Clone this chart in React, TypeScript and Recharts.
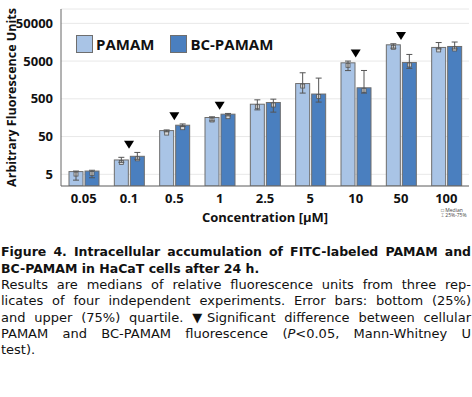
import React from "react";
import {
  ComposedChart,
  Bar,
  ErrorBar,
  Scatter,
  XAxis,
  YAxis,
  CartesianGrid,
  Legend,
} from "recharts";

const categories = ["0.05", "0.1", "0.5", "1", "2.5", "5", "10", "50", "100"];
const pamamMedian = [5.9, 12, 72, 160, 360, 1270, 4500, 13500, 11500];
const pamamQ1 = [3.5, 10.4, 67, 130, 255, 710, 2800, 11000, 10500];
const pamamQ3 = [6.1, 14.1, 75, 167, 470, 2450, 5000, 14400, 15500];
const bcMedian = [6.1, 15, 100, 196, 400, 670, 980, 4600, 12200];
const bcQ1 = [4.05, 12.5, 92, 177, 222, 410, 710, 3200, 10500];
const bcQ3 = [6.4, 19, 108, 205, 490, 1770, 2820, 7500, 16000];
const significant = [false, true, true, true, false, false, true, true, false];
const yTicks = [5, 50, 500, 5000, 50000];

const FONT = "'Open Sans', sans-serif";
const CAPTION_FONT = "'DejaVu Sans', sans-serif";
const PAMAM_FILL = "#a9c4e6";
const BC_FILL = "#4a7fbf";

const data = categories.map((c, i) => ({
  conc: c,
  pamam: pamamMedian[i],
  pamamErr: [pamamMedian[i] - pamamQ1[i], pamamQ3[i] - pamamMedian[i]],
  bc: bcMedian[i],
  bcErr: [bcMedian[i] - bcQ1[i], bcQ3[i] - bcMedian[i]],
  sig: significant[i] ? Math.max(pamamQ3[i], bcQ3[i]) * 1.6 : null,
}));

function MedianBar(props: any) {
  const { x, y, width, height, fill } = props;
  if (height == null || isNaN(y)) return <g />;
  return (
    <g>
      <rect x={x} y={y} width={width} height={height} fill={fill} stroke="#6e6e6e" strokeWidth={1} />
      <rect x={x + width / 2 - 2} y={y + 0.5} width={4} height={4} fill="#d8d8d8" stroke="#555" strokeWidth={0.8} />
    </g>
  );
}

function Triangle(props: any) {
  const { cx, cy, payload } = props;
  if (payload.sig == null || isNaN(cy)) return <g />;
  return <path d={`M${cx - 5},${cy - 4} L${cx + 5},${cy - 4} L${cx},${cy + 4} Z`} fill="#000" />;
}

function ChartLegend() {
  const item = (label: string, color: string) => (
    <div style={{ display: "flex", alignItems: "center", marginRight: 16 }}>
      <div style={{ width: 15, height: 16, background: color, border: "1px solid #6e6e6e", marginRight: 3 }} />
      <span style={{ fontSize: 15, fontWeight: 700, color: "#111", fontFamily: FONT }}>{label}</span>
    </div>
  );
  return (
    <div style={{ display: "flex" }}>
      {item("PAMAM", PAMAM_FILL)}
      {item("BC-PAMAM", BC_FILL)}
    </div>
  );
}

function YLabel(props: any) {
  const { viewBox } = props;
  const cy = viewBox.y + viewBox.height / 2;
  return (
    <text
      x={11}
      y={cy}
      transform={`rotate(-90, 11, ${cy})`}
      textAnchor="middle"
      dominantBaseline="central"
      fontSize={12.5}
      fontWeight={700}
      fill="#111"
      fontFamily={FONT}
    >
      Arbitrary Fluorescence Units
    </text>
  );
}

const tickStyle = { fontSize: 13, fontWeight: 700, fill: "#111", fontFamily: FONT };
const justified = { textAlign: "justify" as const, textAlignLast: "justify" as const };

export default function App() {
  return (
    <div style={{ position: "absolute", left: 0, top: 0, width: 472, height: 397, background: "#fff" }}>
      <div style={{ position: "relative", width: 472, height: 226 }}>
        <ComposedChart
          width={472}
          height={226}
          data={data}
          margin={{ top: 9, right: 3, left: 0, bottom: 0 }}
          barSize={14}
          barGap={2}
        >
          <CartesianGrid vertical={false} stroke="#e8e8e8" />
          <XAxis
            dataKey="conc"
            height={40}
            tickLine={false}
            tickMargin={2}
            axisLine={{ stroke: "#666" }}
            tick={tickStyle}
            label={{
              value: "Concentration [µM]",
              position: "insideBottom",
              offset: 4,
              style: { fontSize: 13, fontWeight: 700, fill: "#111", fontFamily: FONT },
            }}
          />
          <XAxis xAxisId="top" dataKey="conc" orientation="top" height={0} tick={false} tickLine={false} axisLine={{ stroke: "#999" }} />
          <YAxis
            scale="log"
            domain={[2.45, 120000]}
            allowDataOverflow
            ticks={yTicks}
            width={61}
            tickLine={false}
            tickMargin={2}
            axisLine={{ stroke: "#666" }}
            tick={tickStyle}
            label={<YLabel />}
          />
          <YAxis yAxisId="right" orientation="right" width={0} tick={false} tickLine={false} axisLine={{ stroke: "#999" }} />
          <Legend
            layout="horizontal"
            verticalAlign="middle"
            align="center"
            content={<ChartLegend />}
            wrapperStyle={{ top: 34, left: 76, width: "auto", height: "auto" }}
          />
          <Bar dataKey="pamam" name="PAMAM" fill={PAMAM_FILL} shape={<MedianBar />} isAnimationActive={false}>
            <ErrorBar dataKey="pamamErr" width={3} stroke="#555" strokeWidth={1} />
          </Bar>
          <Bar dataKey="bc" name="BC-PAMAM" fill={BC_FILL} shape={<MedianBar />} isAnimationActive={false}>
            <ErrorBar dataKey="bcErr" width={3} stroke="#555" strokeWidth={1} />
          </Bar>
          <Scatter dataKey="sig" shape={<Triangle />} isAnimationActive={false} legendType="none" />
        </ComposedChart>
        <div
          style={{
            position: "absolute",
            left: 441,
            top: 208,
            fontSize: 5,
            lineHeight: "5px",
            color: "#444",
            fontFamily: FONT,
          }}
        >
          <div>□ Median</div>
          <div>⌶ 25%-75%</div>
        </div>
      </div>
      <div style={{ position: "absolute", left: 1, top: 244, width: 470, fontFamily: CAPTION_FONT, color: "#111" }}>
        <div style={{ fontSize: 12.5, fontWeight: 700, lineHeight: "16.5px" }}>
          <div style={justified}>Figure 4. Intracellular accumulation of FITC-labeled PAMAM and</div>
          <div>BC-PAMAM in HaCaT cells after 24 h.</div>
        </div>
        <div style={{ fontSize: 13, lineHeight: "16.3px" }}>
          <div style={justified}>Results are medians of relative fluorescence units from three rep-</div>
          <div style={justified}>licates of four independent experiments. Error bars: bottom (25%)</div>
          <div style={justified}>and upper (75%) quartile. ▼Significant difference between cellular</div>
          <div style={justified}>
            PAMAM and BC-PAMAM fluorescence (<i>P</i>&lt;0.05, Mann-Whitney U
          </div>
          <div>test).</div>
        </div>
      </div>
    </div>
  );
}
